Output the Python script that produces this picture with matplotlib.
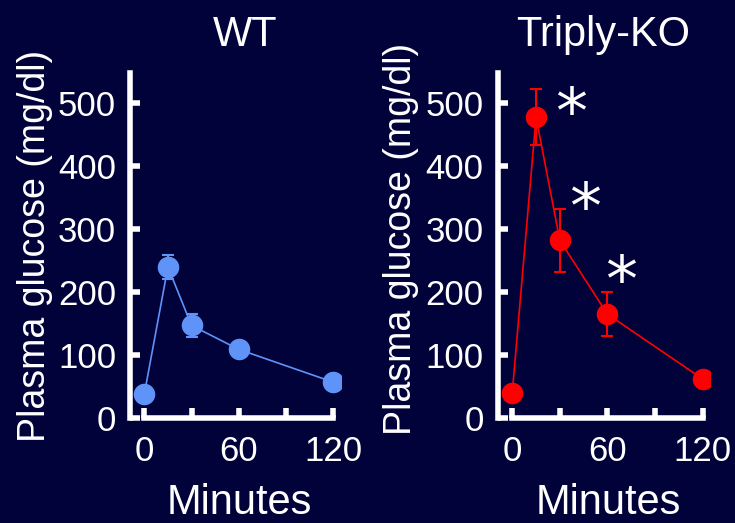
import matplotlib
matplotlib.use("Agg")
import matplotlib.pyplot as plt

plt.rcParams['font.family'] = ['Liberation Sans', 'DejaVu Sans']

# ---- data ----
minutes = [0, 15, 30, 60, 120]
wt_glucose = [38, 240, 147, 109, 57]
wt_err = [0, 19, 18, 0, 0]
ko_glucose = [40, 478, 282, 165, 62]
ko_err = [0, 44, 50, 35, 0]
star_x = [37, 46, 68.5]
star_y = [481, 331, 215]
x_ticks = [0, 30, 60, 90, 120]
x_ticklabels = ['0', '', '60', '', '120']
y_ticks = [0, 100, 200, 300, 400, 500]

BG = '#02023a'
WT_COLOR = '#5f93f7'
KO_COLOR = '#ff0000'

fig = plt.figure(figsize=(7.35, 5.23), dpi=100, facecolor=BG)

def style_axes(ax, xmin):
    ax.set_facecolor(BG)
    ax.set_xlim(xmin, 125)
    ax.set_ylim(0, 548)
    for s in ['top', 'right']:
        ax.spines[s].set_visible(False)
    for s in ['left', 'bottom']:
        ax.spines[s].set_color('white')
        ax.spines[s].set_linewidth(4)
    ax.spines['bottom'].set_bounds(0, 120)
    ax.set_xticks(x_ticks)
    ax.set_xticklabels(x_ticklabels)
    ax.set_yticks(y_ticks)
    ax.tick_params(axis='both', direction='in', length=7.5, width=4,
                   colors='white', labelsize=25)
    ax.tick_params(axis='y', pad=10)
    ax.tick_params(axis='x', pad=12)

ax1 = fig.add_axes([130/735, 105/523, 211/735, 345/523])
style_axes(ax1, -9.1)
ax1.errorbar(minutes, wt_glucose, yerr=wt_err, color=WT_COLOR, lw=1.2,
             marker='o', markersize=14.5, capsize=4.5, capthick=1.5,
             elinewidth=1.5, zorder=3)

ax2 = fig.add_axes([497.5/735, 105/523, 213/735, 345/523])
style_axes(ax2, -9.3)
ax2.errorbar(minutes, ko_glucose, yerr=ko_err, color=KO_COLOR, lw=1.2,
             marker='o', markersize=14.5, capsize=4.5, capthick=1.5,
             elinewidth=1.5, zorder=3)
for sx, sy in zip(star_x, star_y):
    ax2.text(sx, sy, '*', color='white', fontsize=46, ha='center',
             va='center', family='DejaVu Sans')

# titles
fig.text(245/735, (523-46)/523, 'WT', color='white', fontsize=30,
         ha='center', va='baseline')
fig.text(603/735, (523-46)/523, 'Triply-KO', color='white', fontsize=30,
         ha='center', va='baseline')
# x labels
fig.text(239/735, 0.0, 'Minutes', color='white', fontsize=30,
         ha='center', va='bottom')
fig.text(608/735, 0.0, 'Minutes', color='white', fontsize=30,
         ha='center', va='bottom')
# y labels
fig.text(35/735, (523-246)/523, 'Plasma glucose (mg/dl)', color='white',
         fontsize=27, rotation=90, ha='center', va='center')
fig.text(401/735, (523-239)/523, 'Plasma glucose (mg/dl)', color='white',
         fontsize=27, rotation=90, ha='center', va='center')

fig.savefig('out.png', dpi=100, facecolor=BG)
